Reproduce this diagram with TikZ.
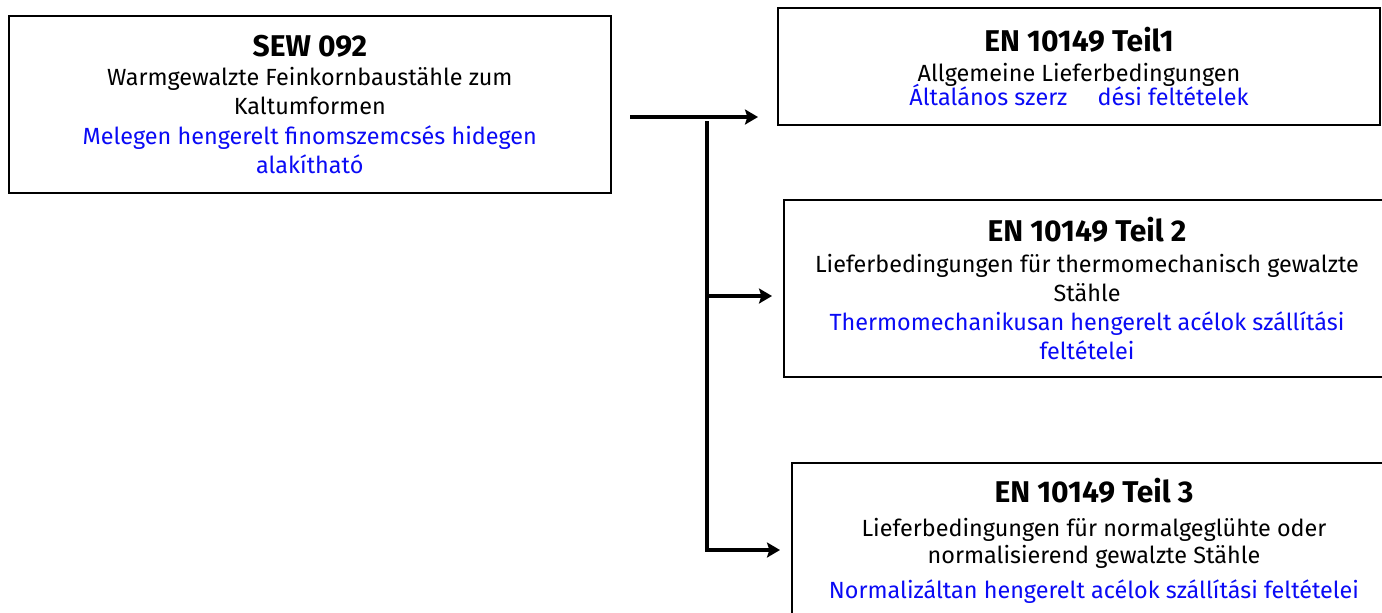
\documentclass[tikz,border=0pt]{standalone}
\usepackage{fontspec}
\setmainfont{Fira Sans}
\usepackage{tikz}
\usetikzlibrary{arrows.meta,positioning}
\definecolor{hublue}{RGB}{10,10,245}

\begin{document}
\begin{tikzpicture}[x=0.5pt,y=-0.5pt,
  normbox/.style={draw,line width=1pt,anchor=north west,align=center,inner sep=0pt,
    font=\fontsize{11.7}{14.6}\selectfont},
  conn/.style={line width=1.7pt,-{Stealth[length=6.5pt,width=7.5pt,inset=1.2pt]}}]
  \useasboundingbox (0,0) rectangle (1382,612);
  \node[normbox,line width=0.8pt,minimum width=301pt,minimum height=88.5pt] (sew) at (8,15)
    {{\fontsize{15}{15}\selectfont\bfseries SEW 092}\\
     Warmgewalzte Feinkornbaustähle zum\\ Kaltumformen\\
     \textcolor{hublue}{Melegen hengerelt finomszemcsés hidegen}\\
     \textcolor{hublue}{alakítható}};
  \node[normbox,minimum width=301pt,minimum height=58.5pt] (en1) at (777,7)
    {{\fontsize{15}{15}\selectfont\bfseries EN 10149 Teil1}\\
     Allgemeine Lieferbedingungen\\[-2.5pt]
     \textcolor{hublue}{Általános szerz\hspace{1.3em}dési feltételek}};
  \node[normbox,minimum width=303pt,minimum height=88.5pt] (en2) at (783,199)
    {{\fontsize{15}{15}\selectfont\bfseries EN 10149 Teil 2}\\[1pt]
     Lieferbedingungen für thermomechanisch gewalzte\\ Stähle\\
     \textcolor{hublue}{Thermomechanikusan hengerelt acélok szállítási}\\
     \textcolor{hublue}{feltételei}};
  \node[normbox,minimum width=302pt,minimum height=78pt] (en3) at (791,462)
    {{\fontsize{15}{15}\selectfont\bfseries EN 10149 Teil 3}\\[2pt]
     Lieferbedingungen für normalgeglühte oder\\[-1pt] normalisierend gewalzte Stähle\\[3pt]
     \textcolor{hublue}{Normalizáltan hengerelt acélok szállítási feltételei}};

  \coordinate (start) at (630,117);
  \coordinate (split) at (707,121);
  \coordinate (fork2) at (707,296);
  \coordinate (fork3) at (707,550);
  \draw[conn,shorten >=9.5pt] (start) -- (start -| en1.west);
  \draw[line width=1.7pt] (split) -- (fork3);
  \foreach \f/\b in {fork2/en2,fork3/en3}
    \draw[conn,shorten >=5.5pt] ([xshift=-0.85pt]\f) -- (\f -| \b.west);
\end{tikzpicture}
\end{document}
